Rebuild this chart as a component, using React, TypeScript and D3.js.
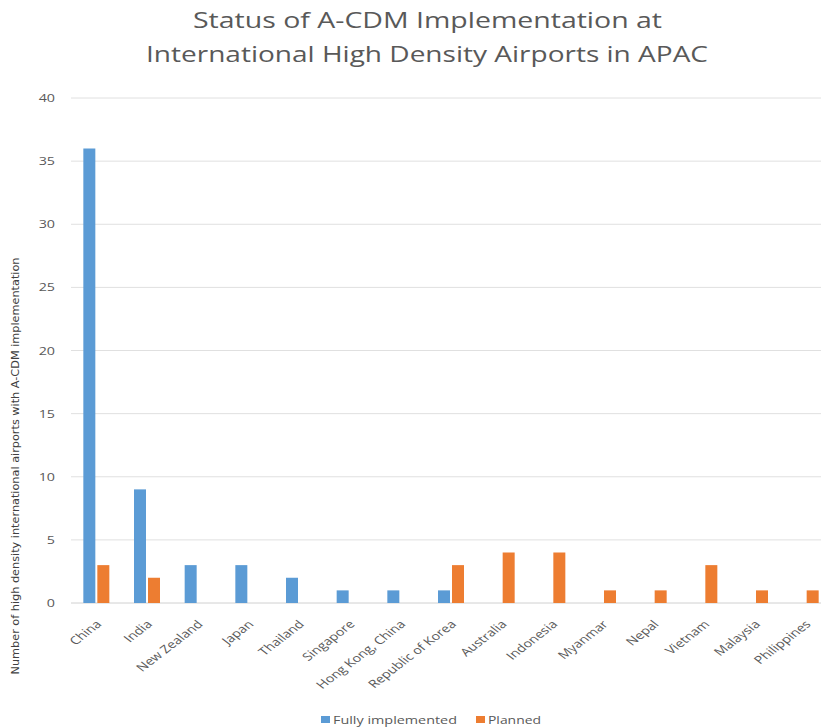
import React from 'react';
import * as d3 from 'd3';

const countries = [
	'China', 'India', 'New Zealand', 'Japan', 'Thailand', 'Singapore', 'Hong Kong, China',
	'Republic of Korea', 'Australia', 'Indonesia', 'Myanmar', 'Nepal', 'Vietnam', 'Malaysia', 'Philippines',
];
const fully = [36, 9, 3, 3, 2, 1, 1, 1, 0, 0, 0, 0, 0, 0, 0];
const planned = [3, 2, 0, 0, 0, 0, 0, 3, 4, 4, 1, 1, 3, 1, 1];
const yTicks = [0, 5, 10, 15, 20, 25, 30, 35, 40];
const seriesNames = ['Fully implemented', 'Planned'];
const colors = ['#5B9BD5', '#ED7D31'];

const W = 821;
const H = 727;
const m = { l: 71, r: 831, t: 98, b: 603 };
const font = '"Open Sans", "Noto Sans", sans-serif';
// the source image is stretched sideways, so text is widened to match
const sx = 1.3;

const App = () => {
	const x = d3.scaleBand<string>().domain(countries).range([m.l, m.r]);
	const y = d3.scaleLinear().domain([0, 40]).range([m.b, m.t]);
	const bw = 12;

	return (
		<svg width={W} height={H} style={{ position: 'absolute', left: 0, top: 0 }}>
			<rect width={W} height={H} fill="#fff" />
			<text x={427.5} y={28} textAnchor="middle" fontFamily={font} fontSize={22} fill="#595959"
				textLength={469} lengthAdjust="spacingAndGlyphs">
				Status of A-CDM Implementation at
			</text>
			<text x={427} y={62} textAnchor="middle" fontFamily={font} fontSize={22} fill="#595959"
				textLength={562} lengthAdjust="spacingAndGlyphs">
				International High Density Airports in APAC
			</text>

			{yTicks.map((t) => (
				<g key={t}>
					<line x1={m.l} x2={W} y1={y(t)} y2={y(t)} stroke={t === 0 ? '#d0d0d0' : '#e0e0e0'} strokeWidth={1} />
					<text transform={`translate(55, ${y(t) + 4}) scale(${sx}, 1)`} textAnchor="end"
						fontFamily={font} fontSize={11} fill="#595959">
						{t}
					</text>
				</g>
			))}

			{countries.map((c, i) => {
				const cx = x(c)! + x.bandwidth() / 2;
				return (
					<g key={c}>
						{fully[i] > 0 && (
							<rect x={cx - 1 - bw} y={y(fully[i])} width={bw} height={y(0) - y(fully[i])} fill={colors[0]} />
						)}
						{planned[i] > 0 && (
							<rect x={cx + 1} y={y(planned[i])} width={bw} height={y(0) - y(planned[i])} fill={colors[1]} />
						)}
						<text
							transform={`translate(${cx + 6}, ${m.b + 22}) scale(${sx}, 1) rotate(-45)`}
							textAnchor="end"
							fontFamily={font}
							fontSize={11}
							fill="#595959"
						>
							{c}
						</text>
					</g>
				);
			})}

			<text
				transform={`translate(19, 466) rotate(-90)`}
				textAnchor="middle"
				fontFamily={'"DejaVu Sans Condensed", "Liberation Sans Narrow", sans-serif'}
				fontSize={10.5}
				fill="#404040"
				textLength={417}
				lengthAdjust="spacingAndGlyphs"
			>
				Number of high density international airports with A-CDM implementation
			</text>

			{seriesNames.map((s, i) => {
				const lx = i === 0 ? 321 : 476;
				return (
					<g key={s}>
						<rect x={lx} y={716} width={9} height={7} fill={colors[i]} />
						<text x={lx + 12} y={724} fontFamily={font} fontSize={11} fill="#595959"
							textLength={i === 0 ? 124 : 53} lengthAdjust="spacingAndGlyphs">
							{s}
						</text>
					</g>
				);
			})}
		</svg>
	);
};

export default App;
